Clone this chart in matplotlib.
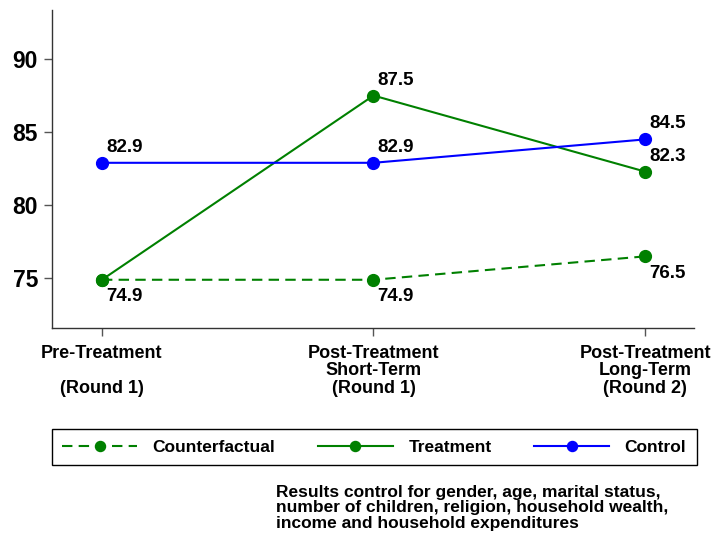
import matplotlib
matplotlib.use("Agg")
import matplotlib.pyplot as plt

# data
periods = ["Pre-Treatment\n\n(Round 1)",
           "Post-Treatment\nShort-Term\n(Round 1)",
           "Post-Treatment\nLong-Term\n(Round 2)"]
counterfactual = [74.9, 74.9, 76.5]
treatment = [74.9, 87.5, 82.3]
control = [82.9, 82.9, 84.5]
yticks = [75, 80, 85, 90]
note = ("Results control for gender, age, marital status,\n"
        "number of children, religion, household wealth,\n"
        "income and household expenditures")

plt.rcParams['font.family'] = ['Liberation Sans', 'DejaVu Sans']
plt.rcParams['font.weight'] = 'bold'

green = '#008000'
blue = '#0000ff'

fig = plt.figure(figsize=(7.11, 5.33), dpi=100)
ax = fig.add_axes([0.0731, 0.3846, 0.9029, 0.5966])

x = list(range(len(periods)))
l1, = ax.plot(x, counterfactual, color=green, ls=(0, (5, 3)), lw=1.5,
              marker='o', ms=8.5, label='Counterfactual')
l2, = ax.plot(x, treatment, color=green, lw=1.5, marker='o', ms=8.5,
              label='Treatment')
l3, = ax.plot(x, control, color=blue, lw=1.5, marker='o', ms=8.5,
              label='Control')

# value labels: above-right for upper points, below-right for lower
for i, v in enumerate(control):
    ax.annotate(f"{v:.1f}", (i, v), xytext=(3, 5), textcoords='offset points',
                fontsize=13.5, fontweight='bold', ha='left', va='bottom')
for i, v in enumerate(treatment):
    if i == 0:
        continue
    ax.annotate(f"{v:.1f}", (i, v), xytext=(3, 5), textcoords='offset points',
                fontsize=13.5, fontweight='bold', ha='left', va='bottom')
for i, v in enumerate(counterfactual):
    ax.annotate(f"{v:.1f}", (i, v), xytext=(3, -6), textcoords='offset points',
                fontsize=13.5, fontweight='bold', ha='left', va='top')

ax.set_xlim(-0.184, 2.18)
ax.set_ylim(71.6, 93.35)
ax.set_yticks(yticks)
ax.set_xticks(x)
ax.set_xticklabels(periods, fontsize=13, fontweight='bold', linespacing=1.05)
ax.tick_params(axis='y', labelsize=16.5, length=6, width=1, color='#555555', pad=4)
ax.tick_params(axis='x', length=6, width=1, color='#555555', pad=6)
for lab in ax.get_yticklabels():
    lab.set_fontweight('bold')

ax.spines['top'].set_visible(False)
ax.spines['right'].set_visible(False)
for s in ('left', 'bottom'):
    ax.spines[s].set_color('#333333')
    ax.spines[s].set_linewidth(1)

leg = fig.legend(handles=[l1, l2, l3], loc='center', ncol=3,
                 bbox_to_anchor=(0.073, 0.122, 0.907, 0.077), mode='expand',
                 borderaxespad=0, fancybox=False, edgecolor='black', framealpha=1,
                 handlelength=4.3, handletextpad=0.9, columnspacing=1.5,
                 borderpad=0.6, markerscale=0.85,
                 prop={'family': 'Liberation Sans', 'weight': 'bold', 'size': 12.5})
leg.get_frame().set_linewidth(1)

fig.text(276 / 711, (533 - 485) / 533, note, fontsize=12.5, fontweight='bold',
         ha='left', va='top', linespacing=1.03)

fig.savefig('out.png', dpi=100)
